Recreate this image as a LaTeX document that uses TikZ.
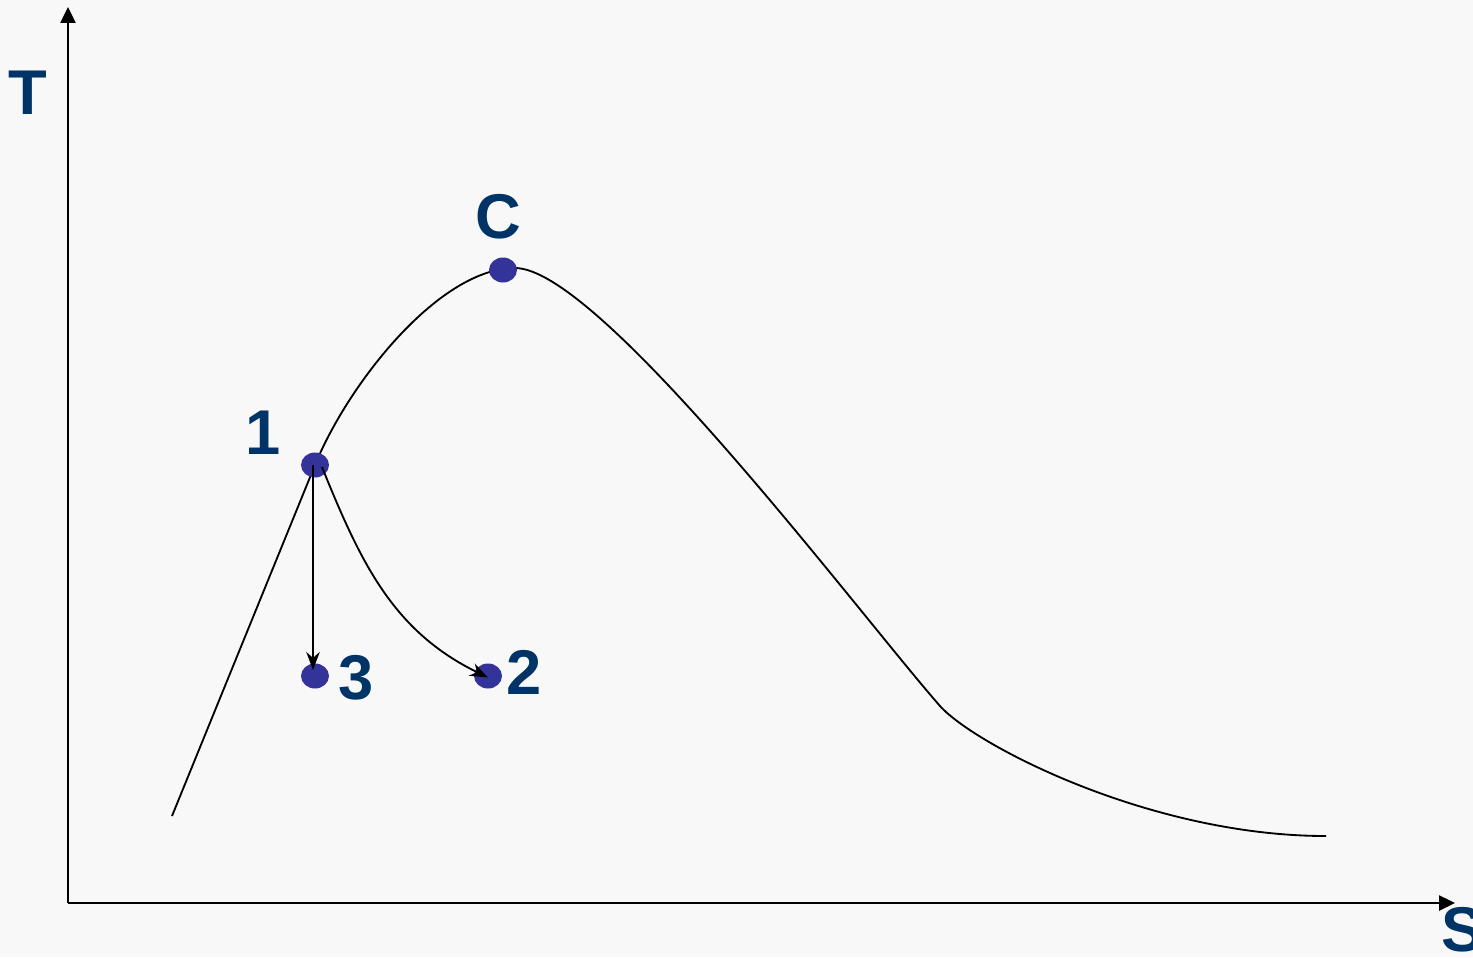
\documentclass[tikz,border=0pt]{standalone}
\usepackage{fontspec}
\setmainfont{Liberation Sans}
\usetikzlibrary{arrows.meta,shapes.geometric}
\definecolor{fond}{HTML}{F8F8F8}
\definecolor{bleutxt}{HTML}{003366}
\definecolor{bleupt}{HTML}{333399}
\begin{document}
\begin{tikzpicture}[x=0.02cm,y=-0.02cm]
\tikzstyle{etiq} = [text=bleutxt,font=\fontsize{36}{36}\selectfont\bfseries,inner sep=0pt] %lettres
\tikzstyle{pt} = [ellipse,fill=bleupt,inner sep=0pt,minimum width=0.56cm,minimum height=0.5cm] %points
\tikzstyle{axe} = [line width=1.4pt,-{Triangle[length=0.32cm,width=0.3cm]}]
\tikzstyle{fleche} = [line width=1.05pt,-{Stealth[length=0.36cm,width=0.27cm]}]

%fond et cadre
\fill[fond] (0,0) rectangle (1473,957);
\useasboundingbox (0,0) rectangle (1473,957);

%axes
\coordinate (O) at (68,903);
\coordinate (Ty) at (68,7);
\coordinate (Sx) at (1455,903);
\draw[axe] (O)--(Ty);
\draw[axe] (O)--(Sx);
\node[etiq] (T) at (28,93) {T};
\node[etiq] (S) at (1463,930) {S};

%courbe de saturation
\draw[line width=1.05pt] (172,816)--(315,465)
  .. controls (349,382) and (440,268) .. (515,268)
  .. controls (600,268) and (860,615) .. (940,706)
  .. controls (975,745) and (1150,836) .. (1326,836);

%points
\node[pt] (C) at (503,270) {};
\node[pt] (P1) at (315,465) {};
\node[pt] (P3) at (315,676) {};
\node[pt] (P2) at (488,676) {};
\node[etiq] (LC) at (498,217) {C};
\node[etiq] (L1) at (263,433) {1};
\node[etiq] (L3) at (356,678) {3};
\node[etiq] (L2) at (524,672) {2};

%transformations
\draw[fleche,shorten >=0.12cm] ([xshift=-0.04cm]P1.center)--([xshift=-0.04cm]P3.center);
\draw[fleche] ([xshift=0.14cm,yshift=-0.04cm]P1.center) to[out=-68,in=154] ([yshift=-0.03cm]P2.center);
\end{tikzpicture}
\end{document}
